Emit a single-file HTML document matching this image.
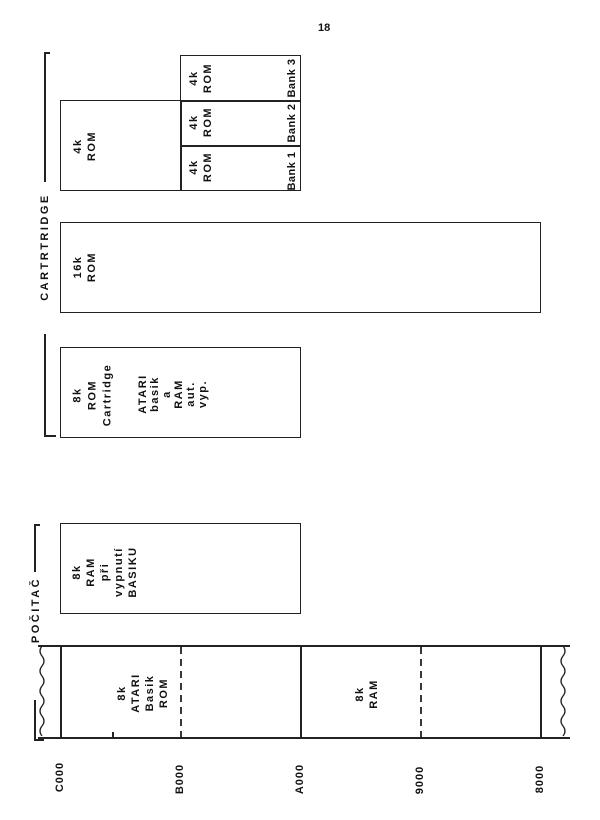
<!DOCTYPE html>
<html><head><meta charset="utf-8"><style>
body{margin:0;background:#fff;}
#c{position:relative;width:600px;height:820px;overflow:hidden;background:#fff;font-family:"Liberation Sans",sans-serif;font-weight:bold;color:#111;}
.b{position:absolute;border:1.5px solid #222;box-sizing:border-box;}
.l{position:absolute;background:#222;}
.r{position:absolute;transform:translate(-50%,-50%) rotate(-90deg);text-align:center;white-space:nowrap;font-size:11px;line-height:14px;letter-spacing:1.5px;}
</style></head><body><div id="c">
<div style="position:absolute;left:318px;top:22px;font-size:11px;">18</div>

<!-- cartridge bracket -->
<div class="l" style="left:44px;top:52px;width:1.5px;height:130px"></div>
<div class="l" style="left:44px;top:52px;width:6px;height:1.5px"></div>
<div class="r" style="left:45px;top:247px;font-size:11px;letter-spacing:2.5px">CARTRTRIDGE</div>
<div class="l" style="left:44px;top:334px;width:1.5px;height:102px"></div>
<div class="l" style="left:44px;top:435px;width:12px;height:1.5px"></div>

<!-- pocitac bracket -->
<div class="l" style="left:34px;top:524px;width:1.5px;height:48px"></div>
<div class="l" style="left:34px;top:524px;width:6px;height:1.5px"></div>
<div class="r" style="left:36px;top:610px;font-size:11px;letter-spacing:2.5px">POČITAČ</div>
<div class="l" style="left:34px;top:700px;width:1.5px;height:40px"></div>
<div class="l" style="left:34px;top:739px;width:10px;height:1.5px"></div>

<!-- 4k ROM + banks -->
<div class="b" style="left:60px;top:100px;width:122px;height:91px"></div>
<div class="r" style="left:85px;top:146px">4k<br>ROM</div>
<div class="b" style="left:180px;top:55px;width:121px;height:136px"></div>
<div class="l" style="left:180px;top:100px;width:121px;height:1.5px"></div>
<div class="l" style="left:180px;top:145px;width:121px;height:1.5px"></div>
<div class="r" style="left:201px;top:78px">4k<br>ROM</div>
<div class="r" style="left:201px;top:122px">4k<br>ROM</div>
<div class="r" style="left:201px;top:167px">4k<br>ROM</div>
<div class="r" style="left:292px;top:78px;letter-spacing:0.5px">Bank 3</div>
<div class="r" style="left:292px;top:123px;letter-spacing:0.5px">Bank 2</div>
<div class="r" style="left:292px;top:171px;letter-spacing:0.5px">Bank 1</div>

<!-- 16k -->
<div class="b" style="left:60px;top:222px;width:481px;height:91px"></div>
<div class="r" style="left:85px;top:267px">16k<br>ROM</div>

<!-- 8k ROM cartridge -->
<div class="b" style="left:60px;top:347px;width:241px;height:91px"></div>
<div class="r" style="left:93px;top:395px;line-height:15px">8k<br>ROM<br>Cartridge</div>
<div class="r" style="left:173px;top:394px;line-height:12px">ATARI<br>basik<br>a<br>RAM<br>aut.<br>vyp.</div>

<!-- 8k RAM -->
<div class="b" style="left:60px;top:523px;width:241px;height:91px"></div>
<div class="r" style="left:105px;top:572px;line-height:14px">8k<br>RAM<br>při<br>vypnutí<br>BASIKU</div>

<!-- main bar -->
<div class="l" style="left:38px;top:645px;width:532px;height:2px"></div>
<div class="l" style="left:38px;top:737px;width:532px;height:2px"></div>
<div class="l" style="left:60px;top:645px;width:1.5px;height:93px"></div>
<div class="l" style="left:300px;top:645px;width:1.5px;height:93px"></div>
<div class="l" style="left:540px;top:645px;width:1.5px;height:93px"></div>
<div class="l" style="left:112px;top:732px;width:1.5px;height:6px"></div>
<svg style="position:absolute;left:0;top:0" width="600" height="820">
<line x1="181" y1="647" x2="181" y2="737" stroke="#222" stroke-width="1.8" stroke-dasharray="7,5"/>
<line x1="421" y1="647" x2="421" y2="737" stroke="#222" stroke-width="1.8" stroke-dasharray="7,5"/>
<path d="M42 646 q-4 5 0 10 q4 5 0 10 q-4 5 0 10 q4 5 0 10 q-4 5 0 10 q4 5 0 10 q-4 5 0 10 q4 5 0 10 q-4 5 0 10" stroke="#222" stroke-width="1.3" fill="none"/>
<path d="M563 646 q4 5 0 10 q-4 5 0 10 q4 5 0 10 q-4 5 0 10 q4 5 0 10 q-4 5 0 10 q4 5 0 10 q-4 5 0 10 q4 5 0 10" stroke="#222" stroke-width="1.3" fill="none"/>
</svg>
<div class="r" style="left:143px;top:693px;line-height:14px">8k<br>ATARI<br>Basik<br>ROM</div>
<div class="r" style="left:367px;top:694px;line-height:14px">8k<br>RAM</div>

<div class="r" style="left:60px;top:777px;letter-spacing:1px">C000</div>
<div class="r" style="left:180px;top:779px;letter-spacing:1px">B000</div>
<div class="r" style="left:300px;top:779px;letter-spacing:1px">A000</div>
<div class="r" style="left:420px;top:780px;letter-spacing:1px">9000</div>
<div class="r" style="left:540px;top:779px;letter-spacing:1px">8000</div>
</div></body></html>
